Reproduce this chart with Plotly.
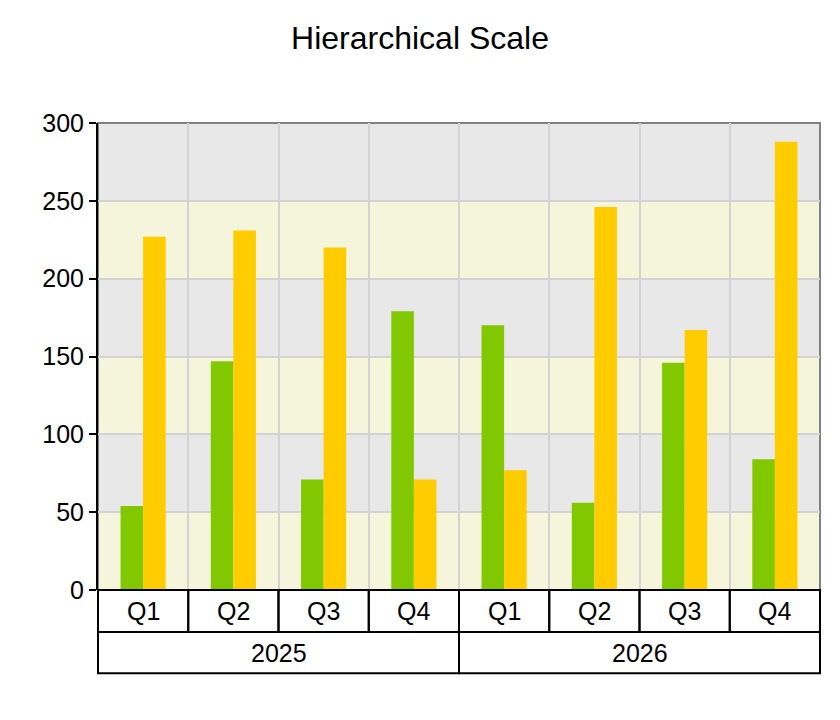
import plotly.graph_objects as go

years = ["2025", "2026"]
quarters = ["Q1", "Q2", "Q3", "Q4"]
series_a = [54, 147, 71, 179, 170, 56, 146, 84]
series_b = [227, 231, 220, 71, 77, 246, 167, 288]
y_ticks = [0, 50, 100, 150, 200, 250, 300]
band_edges = [0, 50, 100, 150, 200, 250, 300]

n = len(years) * len(quarters)
xs = list(range(n))

FONT = "Liberation Sans, Arial, sans-serif"
fig = go.Figure()
fig.add_bar(x=xs, y=series_a, marker_color="#82C800", marker_line_width=0, name="A")
fig.add_bar(x=xs, y=series_b, marker_color="#FFCC00", marker_line_width=0, name="B")

shapes = []
for i in range(len(band_edges) - 1):
    if i % 2 == 0:
        shapes.append(dict(type="rect", xref="x domain", yref="y", x0=0, x1=1,
                           y0=band_edges[i], y1=band_edges[i + 1],
                           fillcolor="#F5F5DC", line_width=0, layer="below"))
shapes.append(dict(type="rect", xref="paper", yref="paper", x0=0, x1=1, y0=0, y1=1,
                   line=dict(color="#808080", width=2), layer="below"))

row1_bot = -0.09
row2_bot = -0.178
line = dict(color="black", width=2)
def dx(v):
    return (v + 0.5) / n
for i in range(n):
    shapes.append(dict(type="rect", xref="paper", yref="paper", x0=dx(i - 0.5), x1=dx(i + 0.5),
                       y0=row1_bot, y1=0, line=line, fillcolor="rgba(0,0,0,0)"))
for j in range(len(years)):
    shapes.append(dict(type="rect", xref="paper", yref="paper", x0=dx(j * 4 - 0.5), x1=dx(j * 4 + 3.5),
                       y0=row2_bot, y1=row1_bot, line=line, fillcolor="rgba(0,0,0,0)"))

annotations = []
for i in range(n):
    annotations.append(dict(x=i, xref="x", y=row1_bot / 2, yref="paper", text=quarters[i % 4],
                            showarrow=False, font=dict(size=25, color="black", family=FONT),
                            xanchor="center", yanchor="middle"))
for j, yr in enumerate(years):
    annotations.append(dict(x=j * 4 + 1.5, xref="x", y=(row1_bot + row2_bot) / 2, yref="paper", text=yr,
                            showarrow=False, font=dict(size=25, color="black", family=FONT),
                            xanchor="center", yanchor="middle"))

fig.update_layout(
    width=840, height=720,
    margin=dict(l=90, r=28, t=115, b=138),
    title=dict(text="Hierarchical Scale", x=0.4905, xanchor="center", y=0.958, yanchor="middle",
               font=dict(size=32, color="black", family=FONT)),
    font=dict(family=FONT, color="black"),
    paper_bgcolor="white", plot_bgcolor="#E8E8E8",
    barmode="group", bargap=0.5, bargroupgap=0,
    showlegend=False,
    shapes=shapes, annotations=annotations,
    xaxis=dict(range=[-0.5, n - 0.5], tickvals=[x + 0.5 for x in xs[:-1]], showticklabels=False,
               ticks="", showgrid=True, gridcolor="#D3D3D3", gridwidth=2, zeroline=False,
               showline=False, fixedrange=True),
    yaxis=dict(range=[0, 300], tickvals=y_ticks, ticks="outside", ticklen=7, tickwidth=2,
               tickcolor="black", showline=True, linecolor="black", linewidth=2,
               showgrid=True, gridcolor="#D3D3D3", gridwidth=2, zeroline=False,
               tickfont=dict(size=25, color="black", family=FONT), fixedrange=True),
)
fig.write_html("out.html")
